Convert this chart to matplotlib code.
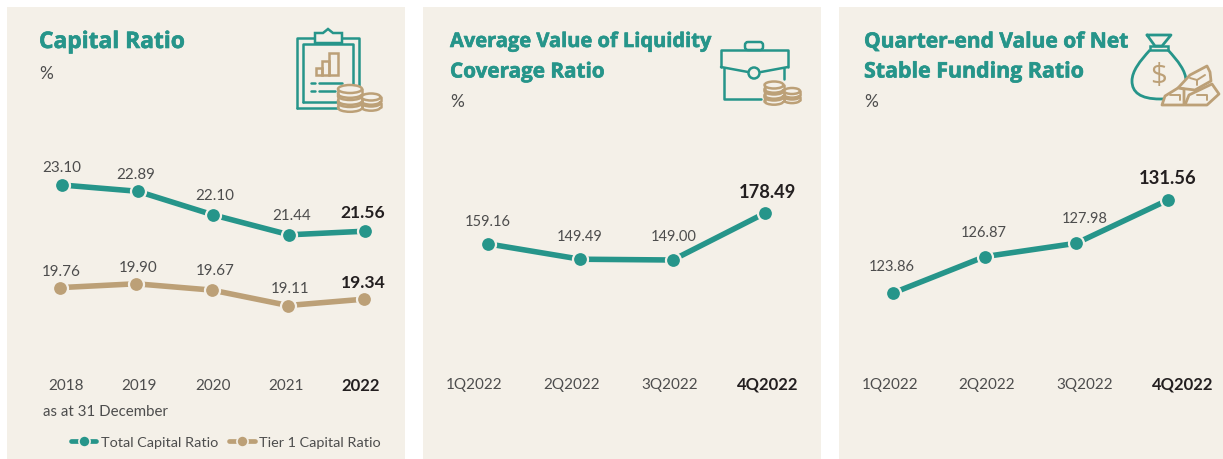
import matplotlib
matplotlib.use("Agg")
import matplotlib.pyplot as plt
import matplotlib.patheffects as pe
from matplotlib.lines import Line2D
from matplotlib.patches import Rectangle, Circle, Ellipse, Polygon, PathPatch, FancyBboxPatch
from matplotlib.path import Path

W, H = 1223, 460
BG = "#F4F0E8"
TEAL = "#26958A"
TAN = "#BCA077"
GREY = "#4D4D4D"
DARK = "#231F20"
plt.rcParams["font.family"] = ["Lato", "Open Sans", "DejaVu Sans"]

years = ["2018", "2019", "2020", "2021", "2022"]
total_capital = [23.10, 22.89, 22.10, 21.44, 21.56]
tier1_capital = [19.76, 19.90, 19.67, 19.11, 19.34]
quarters = ["1Q2022", "2Q2022", "3Q2022", "4Q2022"]
lcr = [159.16, 149.49, 149.00, 178.49]
nsfr = [123.86, 126.87, 127.98, 131.56]

fig = plt.figure(figsize=(W / 100, H / 100), dpi=100, facecolor="white")


def panel(x0, x1, y0=8, y1=460, transparent=False):
    ax = fig.add_axes([x0 / W, 1 - y1 / H, (x1 - x0) / W, (y1 - y0) / H])
    ax.set_facecolor(BG)
    if transparent:
        ax.patch.set_alpha(0)
    for s in ax.spines.values():
        s.set_visible(False)
    ax.set_xticks([])
    ax.set_yticks([])
    return ax


def calibrate(ax, box, px0, px1, n, v_ref, py_ref, ppu):
    """Set axis limits so index 0..n-1 span px0..px1 and v_ref lies at pixel py_ref."""
    x0, x1, y0, y1 = box
    step = (px1 - px0) / (n - 1)
    ax.set_xlim((x0 - px0) / step, (x1 - px0) / step)
    ax.set_ylim(v_ref - (y1 - py_ref) / ppu, v_ref + (py_ref - y0) / ppu)


def series(ax, vals, color):
    ax.plot(range(len(vals)), vals, color=color, lw=4.0, solid_capstyle="butt", zorder=2)
    ax.plot(range(len(vals)), vals, ls="none", marker="o", ms=10.8, mfc=color, mec=BG, mew=1.6, zorder=3)


def pxtext(x, y, s, **kw):
    kw.setdefault("ha", "center")
    kw.setdefault("va", "center")
    kw.setdefault("color", GREY)
    kw.setdefault("fontsize", 11)
    return fig.text(x / W, 1 - y / H, s, **kw)


BOX1, BOX2, BOX3 = (7, 405, 8, 460), (423, 821, 8, 460), (839, 1223, 8, 460)
ax1, ax2, ax3 = panel(*BOX1[:2]), panel(*BOX2[:2]), panel(*BOX3[:2])
ax1b = panel(*BOX1[:2], transparent=True)

calibrate(ax1, BOX1, 62, 365, 5, 23.10, 186, 30.0)
series(ax1, total_capital, TEAL)
calibrate(ax1b, BOX1, 60, 364, 5, 19.11, 306.5, 27.5)
series(ax1b, tier1_capital, TAN)
calibrate(ax2, BOX2, 488, 765, 4, 149.00, 261, 1.59)
series(ax2, lcr, TEAL)
calibrate(ax3, BOX3, 893, 1168, 4, 123.86, 294, 12.08)
series(ax3, nsfr, TEAL)

# titles
TITLE = dict(ha="left", color=TEAL, fontweight="bold", family="Open Sans")
for x, y, s, size in [
    (39, 43, "Capital Ratio", 16.4),
    (450, 43, "Average Value of Liquidity", 14.45),
    (450, 73, "Coverage Ratio", 14.9),
    (864, 43, "Quarter-end Value of Net", 15.1),
    (864, 73, "Stable Funding Ratio", 15.4),
]:
    t = pxtext(x, y, s, fontsize=size, **TITLE)
    t.set_path_effects([pe.withStroke(linewidth=0.45, foreground=TEAL)])
pxtext(39, 74, "%", ha="left", fontsize=12.5)
pxtext(450, 102, "%", ha="left", fontsize=12.5)
pxtext(864, 102, "%", ha="left", fontsize=12.5)

# value labels
for vals, xs, ys, bold, reg in [
    (total_capital, [62, 136, 215, 292, 363], [168, 175, 196, 216, 213], 12.6, 10.9),
    (tier1_capital, [61, 138, 215, 290, 363], [272, 268, 271, 289, 283], 12.6, 10.9),
    (lcr, [488, 580, 674, 768], [222, 237, 237, 193], 13.2, 10.5),
    (nsfr, [892, 984, 1085, 1168], [267, 233, 219, 179], 13.2, 10.5),
]:
    for i, (v, x, y) in enumerate(zip(vals, xs, ys)):
        last = i == len(vals) - 1
        pxtext(x, y, f"{v:.2f}", color=DARK if last else GREY,
               fontweight="bold" if last else "normal", fontsize=bold if last else reg)

# category labels
for labels, xs, y in [
    (years, [66, 139, 213, 286, 361], 386),
    (quarters, [474, 572, 670, 768], 385),
    (quarters, [890, 987, 1085, 1183], 385),
]:
    for i, (s, x) in enumerate(zip(labels, xs)):
        last = i == len(labels) - 1
        pxtext(x, y, s, color=DARK if last else GREY, fontweight="bold" if last else "normal",
               fontsize=12 if last else 11)

pxtext(43, 412, "as at 31 December", ha="left", fontsize=10.8)

# legend
handles = [
    Line2D([], [], color=c, lw=3.4, marker="o", ms=8, mfc=c, mec=BG, mew=1.2, solid_capstyle="round")
    for c in (TEAL, TAN)
]
fig.legend(handles, ["Total Capital Ratio", "Tier 1 Capital Ratio"], loc="center left",
           bbox_to_anchor=(71 / W, 1 - 443 / H), ncol=2, frameon=False, fontsize=10.4,
           labelcolor=GREY, handlelength=1.75, handletextpad=0.3, columnspacing=0.8,
           borderpad=0, borderaxespad=0)

# icons in a pixel overlay
ov = fig.add_axes([0, 0, 1, 1], zorder=5)
ov.set_xlim(0, W)
ov.set_ylim(H, 0)
ov.axis("off")
ov.patch.set_alpha(0)
LW = 1.8


def rect(x0, y0, x1, y1, c=TEAL, lw=LW, fc="none", z=6):
    ov.add_patch(Rectangle((x0, y0), x1 - x0, y1 - y0, fc=fc, ec=c, lw=lw, zorder=z))


def line(xs, ys, c=TEAL, lw=LW, z=6):
    ov.plot(xs, ys, color=c, lw=lw, zorder=z, solid_capstyle="round", solid_joinstyle="round")


def coins(cx, top, n, w=23, h=9, step=7.5):
    for i in range(n - 1, -1, -1):
        y = top + i * step
        z = 8 + n - i
        ov.add_patch(Ellipse((cx, y + h * .6), w, h, fc=BG, ec=TAN, lw=LW, zorder=z))
        ov.add_patch(Rectangle((cx - w / 2, y), w, h * .6, fc=BG, ec="none", zorder=z))
        line([cx - w / 2, cx - w / 2], [y, y + h * .6], TAN, z=z + .1)
        line([cx + w / 2, cx + w / 2], [y, y + h * .6], TAN, z=z + .1)
        ov.add_patch(Ellipse((cx, y), w, h, fc=BG, ec=TAN, lw=LW, zorder=z + .2))


# clipboard
line([297, 297, 359, 359], [109, 39, 39, 90])
line([297, 338], [109, 109])
line([303, 303, 353, 353], [103, 45, 45, 88])
line([303, 338], [103, 103])
ov.add_patch(Polygon([(315, 44), (315, 34), (323, 34), (328, 30), (333, 34), (342, 34), (342, 44)],
                     closed=True, fc=BG, ec=TEAL, lw=LW, zorder=7))
rect(316, 69, 322, 76, TAN)
rect(322, 62, 329, 76, TAN)
rect(329, 54, 338, 76, TAN)
line([311, 315], [84, 84]); line([319, 342], [84, 84])
line([311, 315], [92, 92]); line([319, 335], [92, 92])
coins(371, 98, 2, w=19, h=7, step=6)
coins(350, 90, 3, w=24, h=8, step=7)

# briefcase
ov.add_patch(FancyBboxPatch((745, 43), 18, 8, boxstyle="round,pad=0,rounding_size=3", fc="none", ec=TEAL, lw=LW, zorder=6))
line([721, 721, 788, 788], [68, 51, 51, 68])
line([721, 748], [68, 73]); line([761, 788], [73, 68])
ov.add_patch(Circle((754, 74), 5.5, fc=BG, ec=TEAL, lw=LW, zorder=7))
line([724, 724, 761], [69, 100, 100])
line([784, 784], [69, 80])
coins(792, 92, 2, w=16, h=6, step=5.5)
coins(774, 86, 3, w=19, h=7, step=6)

# money bag and gold
line([1147, 1171, 1162, 1155, 1147], [36, 36, 47, 47, 36], lw=2)
rect(1150, 47, 1168, 51, TEAL)
bag = Path([(1150, 51), (1140, 62), (1132, 72), (1132, 82),
            (1132, 93), (1140, 100), (1160, 100),
            (1175, 100), (1184, 95), (1186, 82),
            (1186, 72), (1178, 62), (1168, 51)],
           [Path.MOVETO] + [Path.CURVE4] * 12)
ov.add_patch(PathPatch(bag, fc="none", ec=TEAL, lw=2, zorder=6))
ov.text(1158, 77, "$", color=TAN, fontsize=21, ha="center", va="center", family="Open Sans", zorder=7)
for pts in ([(1178, 89), (1190, 76), (1207, 67), (1210, 73), (1211, 82), (1195, 91)],
            [(1162, 106), (1165, 97), (1178, 89), (1184, 90), (1184, 106)],
            [(1185, 106), (1189, 96), (1212, 85), (1219, 95), (1207, 106)]):
    ov.add_patch(Polygon(pts, closed=True, fc=BG, ec=TAN, lw=2, joinstyle="round", zorder=8))
line([1190, 1197, 1205], [79, 81, 76], TAN, lw=1.4, z=9)
line([1197, 1197], [81, 86], TAN, lw=1.4, z=9)
line([1197, 1207, 1207], [96, 96, 101], TAN, lw=1.4, z=9)
line([1170, 1180, 1180], [96, 96, 101], TAN, lw=1.4, z=9)

fig.savefig("out.png", dpi=100, facecolor="white")
